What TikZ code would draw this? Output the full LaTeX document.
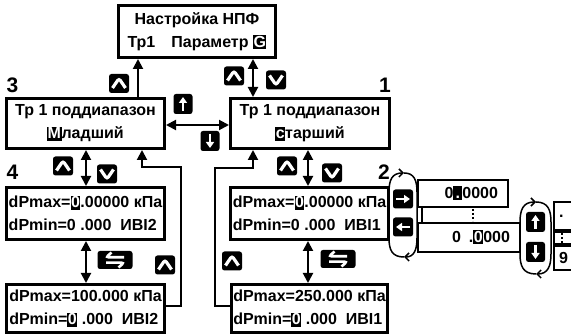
\documentclass[tikz,border=0pt]{standalone}
\usepackage{fontspec}
\setmainfont{Liberation Sans}
\usetikzlibrary{arrows.meta}
\newcommand\hlc[1]{{\setlength{\fboxsep}{0pt}\colorbox{black}{\rule[-2pt]{0pt}{14pt}\hspace{0.5pt}\textcolor{white}{#1}\hspace{0.5pt}}}}
\tikzset{
  txt/.style={font=\fontsize{16}{23}\selectfont\bfseries},
  lcd/.style={txt, draw, line width=3pt, inner xsep=2pt, inner ysep=2pt},
  small/.style={txt, draw, line width=2pt, inner ysep=0pt},
  num/.style={font=\fontsize{21}{21}\selectfont\bfseries, inner sep=0pt},
  arr/.style={line width=2pt, -{Triangle[length=10pt,width=10pt]}},
  darr/.style={line width=2pt, {Triangle[length=10pt,width=10pt]}-{Triangle[length=10pt,width=10pt]}},
  cyc/.style={line width=1.5pt, -{Straight Barb[length=4pt,width=8pt]}},
  dots/.style={line width=2.5pt, dash pattern=on 2pt off 2pt},
  keybox/.style={fill=black, rounded corners=2.5pt, minimum width=20pt, minimum height=19pt, inner sep=0pt},
  glyph/.style={white, line width=3.2pt, shift={(path picture bounding box.center)}},
  upkey/.style={keybox, path picture={\draw[glyph] (-6.5pt,-4.5pt) -- (0pt,5pt) -- (6.5pt,-4.5pt);}},
  dnkey/.style={keybox, path picture={\draw[glyph] (-6.5pt,4.5pt) -- (0pt,-5pt) -- (6.5pt,4.5pt);}},
  uparkey/.style={keybox, minimum width=19pt, minimum height=20pt, path picture={\draw[glyph, line width=2.4pt, -{Triangle[length=6pt,width=8pt]}] (0pt,-7pt) -- (0pt,7pt);}},
  dnarkey/.style={keybox, minimum width=19pt, minimum height=20pt, path picture={\draw[glyph, line width=2.4pt, -{Triangle[length=6pt,width=8pt]}] (0pt,7pt) -- (0pt,-7pt);}},
  rtkey/.style={keybox, path picture={\draw[glyph, line width=2.4pt, -{Triangle[length=6pt,width=8pt]}] (-7pt,0pt) -- (7pt,0pt);}},
  ltkey/.style={keybox, path picture={\draw[glyph, line width=2.4pt, -{Triangle[length=6pt,width=8pt]}] (7pt,0pt) -- (-7pt,0pt);}},
  swapkey/.style={keybox, minimum width=35pt, minimum height=18pt, path picture={
      \draw[glyph, line width=2.6pt] (9pt,2.7pt) -- (-9pt,2.7pt) -- (-3.5pt,7.5pt);
      \draw[glyph, line width=2.6pt] (-9pt,-2.7pt) -- (9pt,-2.7pt) -- (3.5pt,-7.5pt);}},
}
\begin{document}
\begin{tikzpicture}[x=1pt,y=-1pt]
\useasboundingbox (0,0) rectangle (571,336);
\fill[white] (0,0) rectangle (571,336);
\clip (0,0) rectangle (571,336);

% main LCD boxes
\node[lcd, minimum width=157pt, minimum height=52pt, align=center] (top) at (197,31.5)
  {Настройка НПФ\\Тр1\hspace{1em}Параметр \hlc{G}};
\node[lcd, minimum width=158pt, minimum height=50pt, align=center] (b3) at (85.5,123.5)
  {Тр 1 поддиапазон\\\hlc{М}ладший};
\node[lcd, minimum width=159pt, minimum height=50pt, align=center] (b1) at (310,123.5)
  {Тр 1 поддиапазон\\\hlc{с}тарший};
\node[lcd, minimum width=158pt, minimum height=52pt, align=left] (b4) at (85.5,213.5)
  {dPmax=\hlc{0}.00000 кПа\\dPmin=0 .000\ \ ИВI2};
\node[lcd, minimum width=154pt, minimum height=52pt, align=left] (b2) at (309.5,213.5)
  {dPmax=\hlc{0}.00000 кПа\\dPmin=0 .000\ \ ИВI1};
\node[lcd, minimum width=158pt, minimum height=48pt, align=left] (b5) at (85.5,308.5)
  {dPmax=100.000 кПа\\dPmin=\hlc{0} .000\ \ ИВI2};
\node[lcd, minimum width=154pt, minimum height=48pt, align=left] (b6) at (309.5,308.5)
  {dPmax=250.000 кПа\\dPmin=\hlc{0} .000\ \ ИВI1};

% labels
\node[num] (n3) at (12.5,85) {3};
\node[num] (n1) at (385,85) {1};
\node[num] (n4) at (12.5,172) {4};
\node[num] (n2) at (384,172) {2};

% helper coordinates
\coordinate (c138) at (138,0);
\coordinate (c253) at (253,0);
\coordinate (c125) at (0,125);
\coordinate (c86) at (86,0);
\coordinate (c308) at (308,0);
\coordinate (lA) at (181,306);
\coordinate (lB) at (142,167);
\coordinate (rA) at (215,306);
\coordinate (rB) at (253,168);
\coordinate (c422) at (422,0);

% connectors
\draw[arr] (b3.north -| c138) -- (top.south -| c138);
\draw[darr] (top.south -| c253) -- (b1.north -| c253);
\draw[darr] (b3.east |- c125) -- (b1.west |- c125);
\draw[darr] (b3.south -| c86) -- (b4.north -| c86);
\draw[darr] (b4.south -| c86) -- (b5.north -| c86);
\draw[arr] (b5.east |- lA) -- (lA) |- (lB) -- (b3.south -| lB);
\draw[darr] (b1.south -| c308) -- (b2.north -| c308);
\draw[darr] (b2.south -| c308) -- (b6.north -| c308);
\draw[arr] (b6.west |- rA) -- (rA) |- (rB) -- (b1.south -| rB);

% keys
\node[upkey] (k1) at (119,83.5) {};
\node[upkey] (k2) at (234,76) {};
\node[dnkey] (k3) at (276,80) {};
\node[uparkey] (k4) at (183,104) {};
\node[dnarkey] (k5) at (210,141) {};
\node[upkey] (k6) at (63,166) {};
\node[dnkey] (k7) at (107,174) {};
\node[upkey] (k8) at (287,166) {};
\node[dnkey] (k9) at (332,173) {};
\node[swapkey] (k10) at (115,260) {};
\node[upkey] (k11) at (165,265) {};
\node[swapkey] (k12) at (338,259) {};
\node[upkey] (k13) at (232,261) {};
\node[rtkey] (k14) at (403,199) {};
\node[ltkey] (k15) at (403,227) {};
\node[uparkey] (k16) at (535.5,222) {};
\node[dnarkey] (k17) at (535.5,252) {};

% digit editing boxes
\node[small, inner xsep=10pt, text width=70pt, align=right, minimum height=27pt] (s1) at (463,193.5)
  {0\hlc{\makebox[0.5em]{.}}0000};
\node[small, inner xsep=10pt, text width=82pt, align=right, minimum height=29pt] (s2) at (469,237.5)
  {0\hspace{8pt}.\hlc{0}000};
\draw[line width=1.5pt] (s1.south -| c422) -- (s2.north -| c422);
\draw[dots] (473,209) -- (473,221);

\node[small, anchor=north west, inner xsep=5pt, text width=30pt, align=left, minimum height=28pt] (r1) at (553,201) {.};
\node[small, anchor=north west, inner xsep=5pt, text width=30pt, minimum height=12pt] (r2) at (553,231) {};
\node[small, anchor=north west, inner xsep=5pt, text width=30pt, align=left, minimum height=24pt] (r3) at (553,245) {9};
\draw[dots, line width=2pt] (562,233) -- (562,243);

% cycling loops
\draw[cyc] (404,257) .. controls (392,257) and (389,250) .. (389,238) -- (389,192) .. controls (389,180) and (392,173) .. (404,173);
\draw[cyc] (404,173) .. controls (414,173) and (417,180) .. (417,192) -- (417,238) .. controls (417,250) and (414,257) .. (404,257);
\draw[cyc] (536,274) .. controls (523,274) and (520,266) .. (520,254) -- (520,222) .. controls (520,210) and (523,202) .. (536,202);
\draw[cyc] (536,202) .. controls (548,202) and (551,210) .. (551,222) -- (551,254) .. controls (551,266) and (548,274) .. (536,274);
\end{tikzpicture}
\end{document}
